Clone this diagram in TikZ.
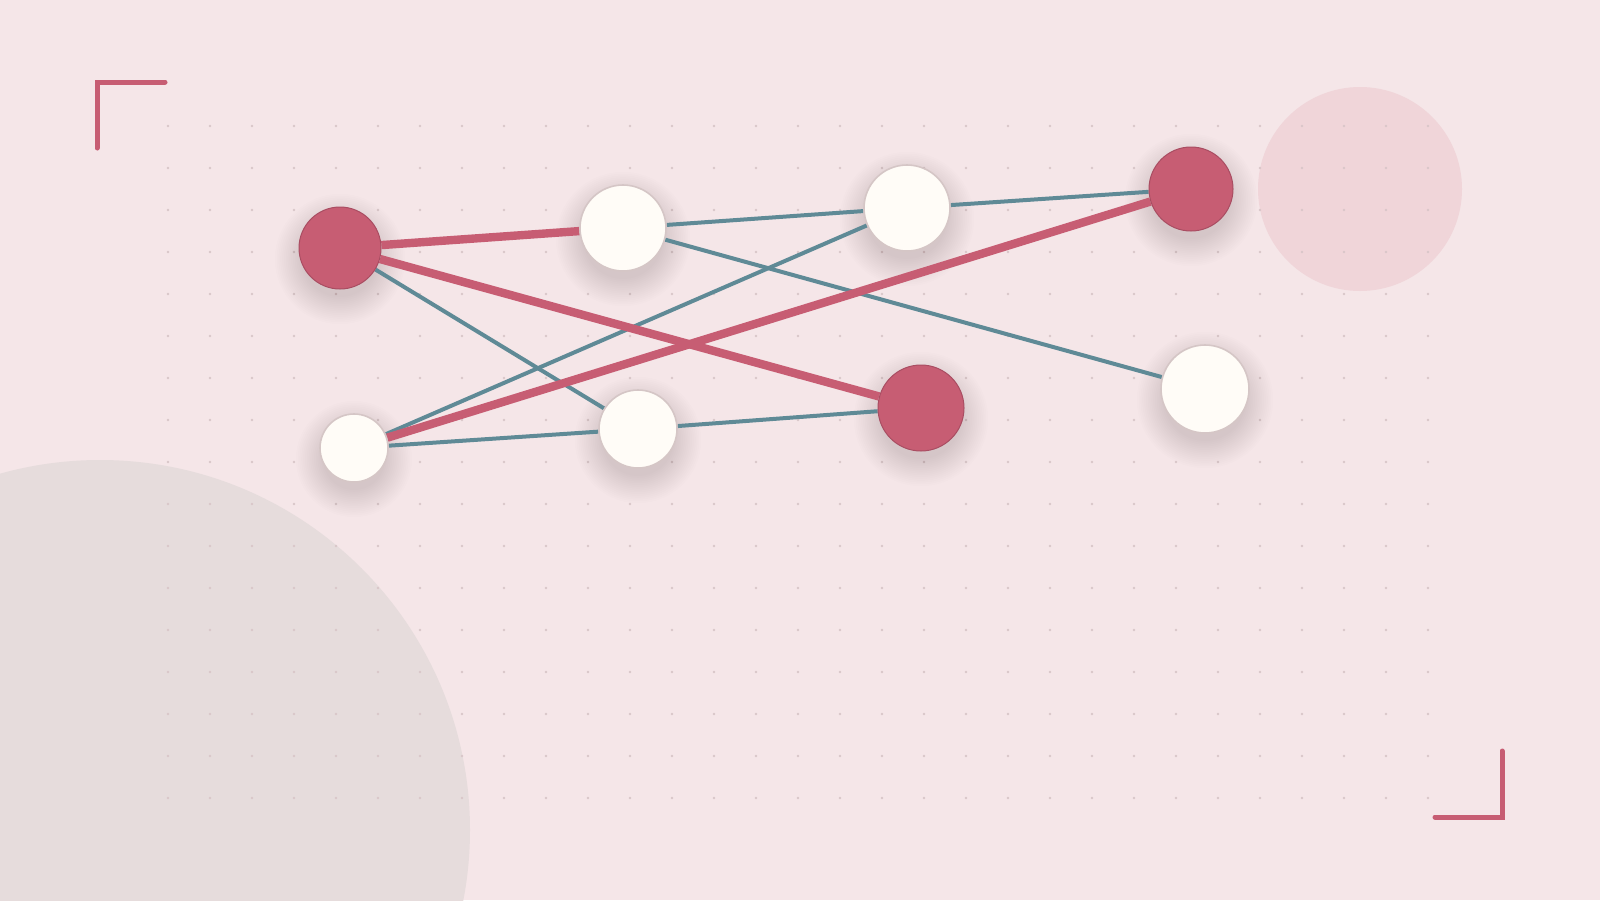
\documentclass[tikz,border=0pt]{standalone}
\definecolor{bg}{HTML}{F5E6E8}
\definecolor{greyc}{HTML}{E6DCDC}
\definecolor{pinkc}{HTML}{F0D5D9}
\definecolor{dotc}{HTML}{D9C6C9}
\definecolor{accent}{HTML}{C75D73}
\definecolor{accentdark}{HTML}{A94D62}
\definecolor{tealc}{HTML}{5F8A96}
\definecolor{cream}{HTML}{FFFCF7}
\definecolor{creamedge}{HTML}{D5C6C6}
\definecolor{shadowc}{HTML}{6E4650}
\pgfdeclarelayer{back}
\pgfsetlayers{back,main}
\tikzset{
  rednode/.style={circle, inner sep=0pt, fill=accent, draw=accentdark, line width=1pt},
  whitenode/.style={circle, inner sep=0pt, fill=cream, draw=creamedge, line width=1.6pt},
  redlink/.style={draw=accent, line width=8.4pt},
  teallink/.style={draw=tealc, line width=4pt},
  bracket/.style={draw=accent, line width=5pt, line cap=round, line join=miter},
  softshadow/.style={fill=shadowc, fill opacity=0.011}
}
\begin{document}
\begin{tikzpicture}[x=1pt,y=-1pt]
\useasboundingbox (0,0) rectangle (1600,900);
% nodes
\node[rednode, minimum size=82pt] (n1) at (340,248) {};
\node[whitenode, minimum size=86pt] (n2) at (623,228) {};
\node[whitenode, minimum size=68pt] (n3) at (354,448) {};
\node[whitenode, minimum size=78pt] (n4) at (638,429) {};
\node[whitenode, minimum size=86pt] (n5) at (907,208) {};
\node[rednode, minimum size=84pt] (n6) at (1191,189) {};
\node[rednode, minimum size=86pt] (n7) at (921,408) {};
\node[whitenode, minimum size=88pt] (n8) at (1205,389) {};
\begin{pgfonlayer}{back}
  \fill[bg] (0,0) rectangle (1600,900);
  \begin{scope}
    \clip (0,0) rectangle (1600,900);
    \fill[greyc] (100,830) circle (370);
  \end{scope}
  \fill[pinkc] (1360,189) circle (102);
  \foreach \i in {0,...,30} {
    \foreach \j in {0,...,16} {
      \fill[dotc] (168+42*\i,126+42*\j) circle (1.3);
    }
  }
  % soft shadows below the nodes
  \foreach \cx/\cy/\r in {340/248/41, 623/228/43, 354/448/34, 638/429/39, 907/208/43, 1191/189/42, 921/408/43, 1205/389/44} {
    \foreach \k in {0,...,15} {
      \fill[softshadow] (\cx,\cy+11) circle (\r+24-1.8*\k);
    }
  }
  % teal connectors
  \draw[teallink] (n1) -- (n4);
  \draw[teallink] (n2) -- (n5);
  \draw[teallink] (n2) -- (n8);
  \draw[teallink] (n3) -- (n5);
  \draw[teallink] (n3) -- (n4);
  \draw[teallink] (n4) -- (n7);
  \draw[teallink] (n5) -- (n6);
  % red connectors
  \draw[redlink] (n1) -- (n2);
  \draw[redlink] (n1) -- (n7);
  \draw[redlink] (n3) -- (n6);
\end{pgfonlayer}
% corner brackets
\draw[bracket] (97,148) -- (97,82) -- (165,82);
\draw[bracket] (1435,817) -- (1502,817) -- (1502,751);
\end{tikzpicture}
\end{document}
